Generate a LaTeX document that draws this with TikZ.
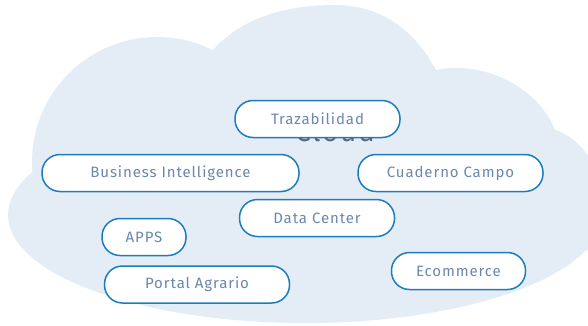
\documentclass[tikz,border=0pt]{standalone}
\usepackage{fontspec}
\setmainfont{Fira Sans}[LetterSpace=6]
\definecolor{cloudfill}{HTML}{E4EDF5}
\definecolor{pillline}{HTML}{1C7DBE}
\definecolor{pilltext}{HTML}{6A88AE}
\definecolor{cloudtext}{HTML}{5E6670}
\tikzset{
  pill/.style={draw=pillline, line width=1.5pt, fill=white,
    rounded corners=18pt, minimum height=37pt, inner sep=0pt,
    text=pilltext, font=\fontsize{15}{17}\selectfont},
}
\begin{document}
\begin{tikzpicture}[x=1pt,y=-1pt]
\useasboundingbox (0,0) rectangle (588,325);
% cloud silhouette built from overlapping lobes
\begin{scope}
  \clip (0,0) rectangle (588,325);
  \fill[cloudfill] (305,215) ellipse [x radius=297, y radius=108];
  \fill[cloudfill] (157,162) circle [radius=125];
  % top lobe
  \fill[cloudfill] (205,60) .. controls (235,18) and (285,5) .. (335,5)
     .. controls (385,5) and (418,35) .. (437,72) -- (437,220) -- (205,220) -- cycle;
  % right lobe
  \fill[cloudfill] (430,72) .. controls (470,58) and (535,80) .. (555,130)
     -- (555,220) -- (430,220) -- cycle;
  % far right lobe
  \fill[cloudfill] (550,128) .. controls (575,135) and (592,155) .. (600,180)
     -- (600,250) -- (550,250) -- cycle;
\end{scope}
% label behind the boxes
\node[anchor=base, text=cloudtext, font=\fontsize{28}{30}\selectfont]
  (cloudlabel) at (335,141) {Cloud};
% service boxes
\node[pill, minimum width=165pt] (traz) at (317.5,119) {Trazabilidad};
\node[pill, minimum width=257pt] (bi)   at (170.5,173) {Business Intelligence};
\node[pill, minimum width=185pt] (cuad) at (450.5,173) {Cuaderno Campo};
\node[pill, minimum width=155pt] (dc)   at (317,218)   {Data Center};
\node[pill, minimum width=84pt]  (apps) at (144,237)   {APPS};
\node[pill, minimum width=185pt] (pa)   at (197,284.5) {Portal Agrario};
\node[pill, minimum width=134pt] (ecom) at (458.5,271) {Ecommerce};
\end{tikzpicture}
\end{document}
